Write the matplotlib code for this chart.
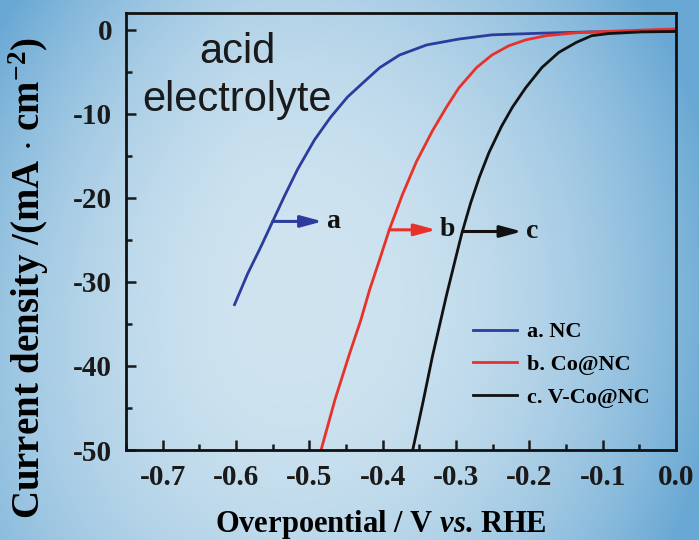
import numpy as np
import matplotlib
matplotlib.use("Agg")
import matplotlib.pyplot as plt
from matplotlib import ticker

# LSV curves (overpotential V, current density mA/cm2)
nc_x = [-0.602, -0.584, -0.566, -0.550, -0.534, -0.516, -0.493, -0.471, -0.448, -0.423,
        -0.404, -0.377, -0.340, -0.296, -0.251, -0.183, -0.115, 0.0]
nc_y = [-32.7, -29.0, -25.8, -22.8, -19.8, -16.6, -13.1, -10.4, -8.0, -6.0,
        -4.5, -3.0, -1.8, -1.1, -0.6, -0.4, -0.25, -0.15]

co_x = [-0.484, -0.465, -0.445, -0.430, -0.418, -0.404, -0.391, -0.373, -0.354, -0.332,
        -0.313, -0.296, -0.272, -0.251, -0.228, -0.205, -0.177, -0.136, -0.068, 0.0]
co_y = [-50.0, -44.0, -38.5, -34.6, -31.0, -27.3, -23.8, -19.6, -15.7, -12.0,
        -9.2, -6.9, -4.5, -3.0, -1.9, -1.2, -0.7, -0.35, -0.1, 0.1]

vco_x = [-0.359, -0.345, -0.332, -0.313, -0.300, -0.292, -0.280, -0.268, -0.255, -0.238,
         -0.223, -0.205, -0.183, -0.160, -0.136, -0.115, -0.092, -0.047, 0.0]
vco_y = [-50.0, -44.3, -38.8, -31.6, -27.0, -24.2, -20.6, -17.5, -14.6, -11.5,
         -9.2, -6.9, -4.5, -2.7, -1.5, -0.7, -0.45, -0.25, -0.2]

labels = ["a. NC", "b. Co@NC", "c. V-Co@NC"]
colors = ["#2c3c9c", "#e8312a", "#111111"]
x_ticks = [-0.7, -0.6, -0.5, -0.4, -0.3, -0.2, -0.1, 0.0]
y_ticks = [0, -10, -20, -30, -40, -50]

# arrow annotations: (start x, y, end x, letter)
arrows = [(-0.550, -22.8, -0.482, "a"),
          (-0.391, -23.8, -0.327, "b"),
          (-0.291, -24.0, -0.210, "c")]

plt.rcParams["font.family"] = ["Liberation Serif"]
plt.rcParams["font.weight"] = "bold"
plt.rcParams["axes.unicode_minus"] = False
plt.rcParams["mathtext.fontset"] = "custom"
plt.rcParams["mathtext.rm"] = "Liberation Serif:bold"
plt.rcParams["mathtext.it"] = "Liberation Serif:italic"
plt.rcParams["mathtext.bf"] = "Liberation Serif:bold"

fig = plt.figure(figsize=(6.99, 5.40), dpi=100)

# gradient background
bg = fig.add_axes([0, 0, 1, 1], zorder=-10)
gx, gy = np.meshgrid(np.linspace(0, 1, 350), np.linspace(0, 1, 270))
t = ((gx - 0.42) / 0.62) ** 2 + ((gy - 0.55) / 0.95) ** 2
t = t + 0.25 * np.clip(0.35 - gx, 0, 1) * (1 - gy) * 3
t = np.clip(t, 0, 1) ** 1.1
light = np.array([208, 228, 240]) / 255
dark = np.array([105, 168, 212]) / 255
img = light[None, None, :] * (1 - t[..., None]) + dark[None, None, :] * t[..., None]
bg.imshow(img, aspect="auto", extent=[0, 1, 0, 1], origin="upper")
bg.axis("off")

ax = fig.add_axes([126 / 699, 90 / 540, 550 / 699, 437 / 540])
ax.set_facecolor("none")

ax.plot(nc_x, nc_y, color=colors[0], lw=2.0, label=labels[0])
ax.plot(co_x, co_y, color=colors[1], lw=2.0, label=labels[1])
ax.plot(vco_x, vco_y, color=colors[2], lw=2.0, label=labels[2])

for (x0, y0, x1, letter), c in zip(arrows, colors):
    ax.annotate("", xy=(x1, y0), xytext=(x0, y0),
                arrowprops=dict(arrowstyle="-|>,head_length=1.3,head_width=0.35",
                                mutation_scale=10, color=c, lw=2.2, shrinkA=0, shrinkB=0))
    ax.text(x1 + 0.005, y0, letter, fontsize=20, fontweight="bold",
            ha="left", va="center", color="#111111")

ax.text(-0.598, -2.7, "acid", family="Liberation Sans", fontweight="normal",
        fontsize=30, ha="center", va="center", color="#1a1a1a")
ax.text(-0.598, -8.4, "electrolyte", family="Liberation Sans", fontweight="normal",
        fontsize=30, ha="center", va="center", color="#1a1a1a")

ax.set_xlim(-0.75, 0.0)
ax.set_ylim(-50, 2)
ax.set_xticks(x_ticks)
ax.set_yticks(y_ticks)
ax.xaxis.set_major_formatter(ticker.FormatStrFormatter("%.1f"))
ax.xaxis.set_minor_locator(ticker.MultipleLocator(0.05))
ax.yaxis.set_minor_locator(ticker.MultipleLocator(5))
ax.tick_params(which="both", direction="in", width=1.8, labelsize=21, colors="#1a1a1a")
ax.tick_params(which="major", length=7)
ax.tick_params(which="minor", length=4)
ax.tick_params(axis="x", pad=10)
ax.tick_params(axis="y", pad=10)
for s in ax.spines.values():
    s.set_linewidth(2.0)
    s.set_color("#111111")

ax.set_xlabel(r"Overpoential / V $\mathit{vs}$. RHE", fontsize=22, fontweight="bold")
ax.xaxis.set_label_coords(0.464, -0.132)
ax.set_ylabel(r"Current density /(mA $\cdot$ cm$^{-2}$)", fontsize=28, fontweight="bold")
ax.yaxis.set_label_coords(-0.136, 0.394)

ax.legend(loc="center left", bbox_to_anchor=(0.631, 0.195), frameon=False, fontsize=16,
          handlelength=2.0, handletextpad=0.45, labelspacing=0.55, borderpad=0, borderaxespad=0)

fig.savefig("out.png", dpi=100)
